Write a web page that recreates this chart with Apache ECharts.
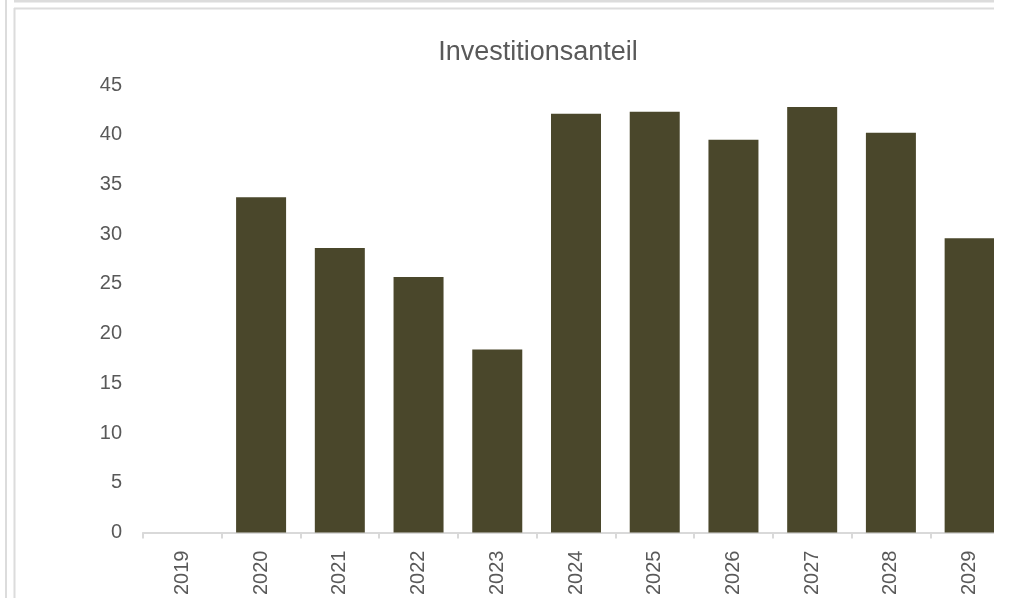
<!DOCTYPE html>
<html>
<head>
<meta charset="utf-8">
<script src="https://cdn.jsdelivr.net/npm/echarts@6/dist/echarts.min.js"></script>
<style>
html,body{margin:0;padding:0;background:#fff;}
#chart{width:1009px;height:598px;}
</style>
</head>
<body>
<div id="chart"></div>
<script>
const categories = ['2019','2020','2021','2022','2023','2024','2025','2026','2027','2028','2029'];
const values = [null, 33.7, 28.6, 25.7, 18.4, 42.1, 42.3, 39.5, 42.8, 40.2, 29.6];
const yTicks = {min: 0, max: 45, interval: 5};

const FONT = "'Liberation Sans Narrow', 'Arial Narrow', 'Liberation Sans', Arial, sans-serif";
const TEXT = '#595959';
const FRAME = '#dcdcdc';

const chart = echarts.init(document.getElementById('chart'), null, {renderer: 'canvas'});
chart.setOption({
  animation: false,
  backgroundColor: '#fff',
  title: {
    text: 'Investitionsanteil',
    left: 533, top: 34, textAlign: 'center',
    textStyle: {fontFamily: FONT, fontSize: 27, fontWeight: 'normal', color: TEXT}
  },
  grid: {left: 143, top: 85, width: 880, bottom: 60, containLabel: false},
  xAxis: {
    type: 'category',
    data: categories,
    boundaryGap: true,
    axisLine: {lineStyle: {color: '#d9d9d9', width: 2}},
    axisTick: {show: true, alignWithLabel: false, length: 6, lineStyle: {color: '#d9d9d9', width: 2}},
    axisLabel: {rotate: 90, margin: 18, color: TEXT, fontFamily: FONT, fontSize: 20}
  },
  yAxis: {
    type: 'value',
    min: yTicks.min, max: yTicks.max, interval: yTicks.interval,
    axisLine: {show: false},
    axisTick: {show: false},
    splitLine: {show: false},
    axisLabel: {margin: 21, color: TEXT, fontFamily: FONT, fontSize: 20}
  },
  series: [{
    type: 'bar',
    data: values,
    barWidth: 50,
    itemStyle: {color: '#4a472b'}
  }],
  graphic: [
    {type: 'rect', z: 100, shape: {x: 994, y: 0, width: 20, height: 598}, style: {fill: '#fff'}},
    {type: 'line', z: 101, shape: {x1: 14, y1: 1, x2: 994, y2: 1}, style: {stroke: FRAME, lineWidth: 3}},
    {type: 'line', z: 101, shape: {x1: 14, y1: 8.5, x2: 994, y2: 8.5}, style: {stroke: FRAME, lineWidth: 2}},
    {type: 'line', z: 101, shape: {x1: 6, y1: 0, x2: 6, y2: 598}, style: {stroke: FRAME, lineWidth: 2}},
    {type: 'line', z: 101, shape: {x1: 14.5, y1: 8, x2: 14.5, y2: 598}, style: {stroke: FRAME, lineWidth: 2}}
  ]
});
</script>
</body>
</html>
